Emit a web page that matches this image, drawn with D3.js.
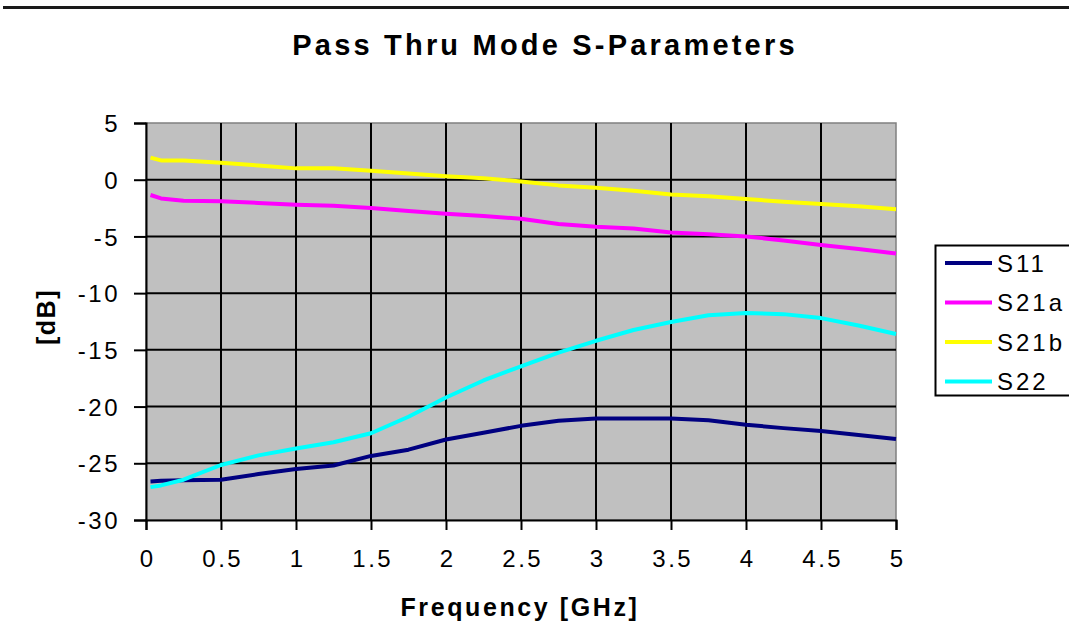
<!DOCTYPE html>
<html><head><meta charset="utf-8">
<script src="https://cdn.jsdelivr.net/npm/d3@7"></script>
<style>
body{margin:0;background:#fff}
svg{display:block}
text{font-family:"Liberation Sans",Arial,sans-serif;fill:#000}
</style>
</head><body>
<svg id="chart" width="1069" height="638"></svg>
<script>
// ---- data ----
const freq = [0.03, 0.1, 0.25, 0.5, 0.75, 1.0, 1.25, 1.5, 1.75, 2.0, 2.25, 2.5, 2.75, 3.0, 3.25, 3.5, 3.75, 4.0, 4.25, 4.5, 4.75, 5.0];
const s11  = [-26.6, -26.55, -26.5, -26.45, -25.95, -25.5, -25.2, -24.35, -23.8, -22.9, -22.3, -21.7, -21.25, -21.05, -21.05, -21.05, -21.2, -21.6, -21.9, -22.15, -22.5, -22.85];
const s21a = [-1.35, -1.65, -1.85, -1.9, -2.05, -2.2, -2.3, -2.5, -2.75, -3.0, -3.2, -3.45, -3.9, -4.15, -4.3, -4.65, -4.8, -5.0, -5.35, -5.75, -6.1, -6.5];
const s21b = [1.95, 1.7, 1.7, 1.5, 1.25, 1.0, 1.0, 0.8, 0.55, 0.3, 0.12, -0.15, -0.5, -0.7, -0.97, -1.3, -1.45, -1.7, -1.95, -2.15, -2.35, -2.6];
const s22  = [-27.1, -26.95, -26.45, -25.15, -24.3, -23.7, -23.15, -22.35, -20.9, -19.2, -17.7, -16.45, -15.25, -14.2, -13.25, -12.55, -11.95, -11.75, -11.85, -12.2, -12.85, -13.6];
const seriesNames  = ["S11", "S21a", "S21b", "S22"];
const seriesColors = ["#000080", "#FF00FF", "#FFFF00", "#00FFFF"];
const xTicks = [0, 0.5, 1, 1.5, 2, 2.5, 3, 3.5, 4, 4.5, 5];
const yTicks = [-30, -25, -20, -15, -10, -5, 0, 5];
const titleText = "Pass Thru Mode S-Parameters";
const xTitle = "Frequency [GHz]";
const yTitle = "[dB]";

const seriesValues = [s11, s21a, s21b, s22];
const series = seriesNames.map((n, i) => ({
  name: n, color: seriesColors[i],
  points: freq.map((f, j) => ({f, v: seriesValues[i][j]}))
}));

// ---- layout ----
const svg = d3.select("#chart");
const L = 146, R = 896, T = 123, B = 520;
const x = d3.scaleLinear().domain([0, 5]).range([L, R]);
const y = d3.scaleLinear().domain([-30, 5]).range([B, T]);

// top rule
svg.append("line").attr("x1", 3).attr("x2", 1069).attr("y1", 7.5).attr("y2", 7.5)
  .attr("stroke", "#1a1a1a").attr("stroke-width", 3);

// title
svg.append("text").attr("x", 545).attr("y", 55).attr("text-anchor", "middle")
  .style("font-size", "29px").style("font-weight", "bold").style("letter-spacing", "3.2px")
  .text(titleText);

// plot area
svg.append("rect").attr("x", L).attr("y", T).attr("width", R - L).attr("height", B - T)
  .attr("fill", "#C0C0C0").attr("stroke", "#808080").attr("stroke-width", 1.5);

// gridlines
svg.append("g").selectAll("line").data(yTicks.filter(d => d > -30 && d < 5)).join("line")
  .attr("x1", L).attr("x2", R).attr("y1", d => y(d)).attr("y2", d => y(d))
  .attr("stroke", "#000").attr("stroke-width", 2);
svg.append("g").selectAll("line").data(xTicks.filter(d => d > 0 && d < 5)).join("line")
  .attr("y1", T).attr("y2", B).attr("x1", d => x(d)).attr("x2", d => x(d))
  .attr("stroke", "#000").attr("stroke-width", 2);

// series
const line = d3.line().x(d => x(d.f)).y(d => y(d.v));
svg.append("g").selectAll("path").data(series).join("path")
  .attr("d", d => line(d.points)).attr("fill", "none")
  .attr("stroke", d => d.color).attr("stroke-width", 4).attr("stroke-linejoin", "round");

// axes
const yAxis = d3.axisLeft(y).tickValues(yTicks).tickSize(12).tickPadding(14)
  .tickFormat(d => String(d));
const gy = svg.append("g").attr("transform", `translate(${L},0)`).call(yAxis);
const xAxis = d3.axisBottom(x).tickValues(xTicks).tickSize(10).tickPadding(24)
  .tickFormat(d => String(d));
const gx = svg.append("g").attr("transform", `translate(0,${B})`).call(xAxis);
[gx, gy].forEach(g => {
  g.select(".domain").attr("stroke", "#000").attr("stroke-width", 2);
  g.selectAll(".tick line").attr("stroke", "#000").attr("stroke-width", 2);
  g.selectAll(".tick text").style("font-size", "24px").style("letter-spacing", "2.5px")
    .attr("fill", "#000").style("font-family", '"Liberation Sans",Arial,sans-serif');
});
gy.selectAll(".tick text").attr("dy", "0.36em");
gx.selectAll(".tick text").attr("dy", "0").attr("y", 47).attr("dx", "1.25px");

// axis titles
svg.append("text").attr("x", 520).attr("y", 616).attr("text-anchor", "middle")
  .style("font-size", "25px").style("font-weight", "bold").style("letter-spacing", "2.6px")
  .text(xTitle);
svg.append("text").attr("transform", "translate(55,317) rotate(-90)").attr("text-anchor", "middle")
  .style("font-size", "25px").style("font-weight", "bold").style("letter-spacing", "1.5px")
  .text(yTitle);

// legend
const lg = svg.append("g");
lg.append("rect").attr("x", 935.5).attr("y", 245.5).attr("width", 150).attr("height", 150)
  .attr("fill", "#fff").attr("stroke", "#000").attr("stroke-width", 2);
const rows = lg.selectAll("g.row").data(series).join("g").attr("class", "row")
  .attr("transform", (d, i) => `translate(0,${263 + i * 39.5})`);
rows.append("line").attr("x1", 945).attr("x2", 992).attr("y1", 0).attr("y2", 0)
  .attr("stroke", d => d.color).attr("stroke-width", 4);
rows.append("text").attr("x", 997).attr("y", 0).attr("dy", "0.36em")
  .style("font-size", "24px").style("letter-spacing", "3px").text(d => d.name);
</script>
</body></html>
